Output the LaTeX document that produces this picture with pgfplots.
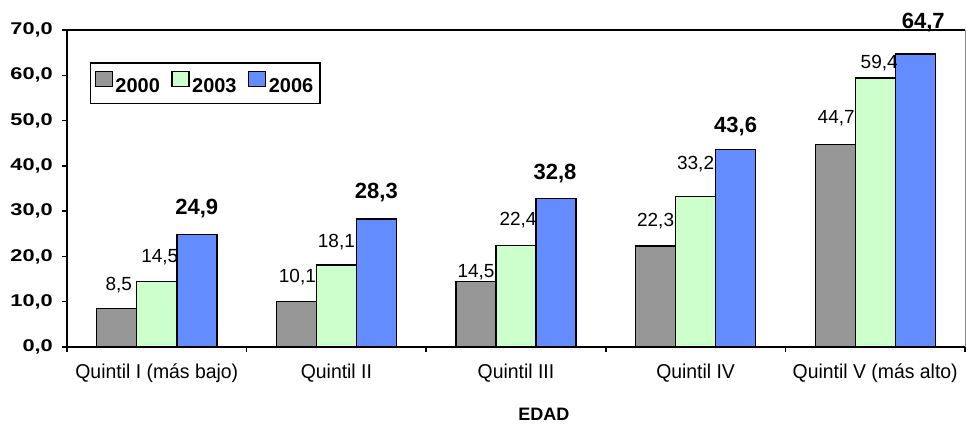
\documentclass[border=0pt]{standalone}
\usepackage{fontspec}
\setmainfont{Liberation Sans}
\newfontfamily\tickfont{Liberation Sans}[FakeStretch=1.28]
\newfontfamily\catfont{Liberation Sans}[FakeStretch=0.97]
\usepackage{pgfplots}
\usepackage{pgfplotstable}
\pgfplotsset{compat=1.18}

\definecolor{c2000}{RGB}{150,150,150}
\definecolor{c2003}{RGB}{204,255,204}
\definecolor{c2006}{RGB}{99,141,255}

% x = quintil (0..4), y = valor, dx/dy = posicion de la etiqueta (pt)
\pgfplotstableread{
x y dx dy
0 8.5 2 23
1 10.1 1 24
2 14.5 0 9
3 22.3 0 25
4 44.7 1 26
}\tA
\pgfplotstableread{
x y dx dy
0 14.5 3 24
1 18.1 0 23
2 22.4 2 25.5
3 33.2 0 33
4 59.4 4 15
}\tB
\pgfplotstableread{
x y dx dy
0 24.9 0 26
1 28.3 0 26
2 32.8 -1 25
3 43.6 0 23
4 64.7 8 31
}\tC

\pgfplotsset{
  lbl/.style={
    nodes near coords,
    visualization depends on={\thisrow{dx} \as \dx},
    visualization depends on={\thisrow{dy} \as \dy},
    every node near coord/.append style={
      anchor=center, inner sep=0pt, text=black,
      xshift=\dx pt, yshift=\dy pt, font=#1,
      /pgf/number format/.cd, fixed, fixed zerofill, precision=1,
      use comma, assume math mode=true}
  }
}

\begin{document}
\begin{tikzpicture}
\begin{axis}[
    width=898pt, height=317pt, scale only axis,
    xmin=-0.5, xmax=4.5, ymin=0, ymax=70,
    ybar=0pt, bar width=40pt,
    clip=false,
    axis lines*=left,
    axis line style={line width=2pt},
    tick align=outside,
    major tick length=5pt, minor tick length=5pt,
    every tick/.append style={black, line width=1.5pt},
    every major x tick/.append style={draw=none},
    ytick={0,10,...,70},
    xtick={0,1,2,3,4},
    minor xtick={-0.5,0.5,1.5,2.5,3.5,4.5},
    xticklabels={Quintil I (más bajo), Quintil II, Quintil III, Quintil IV, Quintil V (más alto)},
    xticklabel style={anchor=center, inner sep=0pt, yshift=-21pt,
        font=\catfont\fontsize{20}{20}\selectfont},
    yticklabel style={anchor=east, inner sep=0pt, xshift=-9pt,
        font=\tickfont\bfseries\fontsize{17}{17}\selectfont,
        /pgf/number format/.cd, fixed, fixed zerofill, precision=1,
        use comma, assume math mode=true},
    xlabel={EDAD},
    xlabel style={at={(axis description cs:0.531,0)}, anchor=center,
        yshift=-67pt, inner sep=0pt, font=\bfseries\fontsize{18}{18}\selectfont},
    legend columns=3,
    legend style={at={(0.0256,0.899)}, anchor=north west, draw=black,
        line width=1.5pt, inner xsep=4pt, inner ysep=8pt,
        font=\bfseries\fontsize{20}{20}\selectfont,
        nodes={inner xsep=2.5pt},
        /tikz/every even column/.append style={column sep=9pt}},
    legend image code/.code={\draw[#1, line width=1.2pt] (0pt,-0.5pt) rectangle (17pt,14.5pt);},
]

\addplot[fill=c2000, draw=black, line width=1.4pt,
    lbl={\fontsize{19}{19}\selectfont}] table[x=x, y=y] {\tA};
\addplot[fill=c2003, draw=black, line width=1.4pt,
    lbl={\fontsize{19}{19}\selectfont}] table[x=x, y=y] {\tB};
\addplot[fill=c2006, draw=black, line width=1.4pt,
    lbl={\bfseries\fontsize{22}{22}\selectfont}] table[x=x, y=y] {\tC};

\legend{2000, 2003, 2006}

% marco superior y derecho
\draw[line width=2pt] (rel axis cs:0,1) -- (rel axis cs:1,1);
\draw[black!45, line width=0.8pt] (rel axis cs:1,0) -- (rel axis cs:1,1);
\end{axis}
\path ([shift={(-67pt,-77pt)}]current axis.south west)
    rectangle ([shift={(1pt,30pt)}]current axis.north east);
\end{tikzpicture}
\end{document}
